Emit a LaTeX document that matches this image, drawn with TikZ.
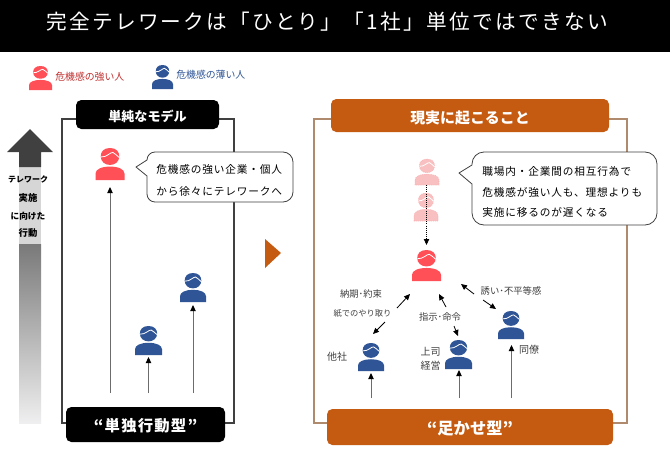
\documentclass[tikz,border=0pt]{standalone}
\usepackage{fontspec}
\setmainfont{Noto Sans CJK JP}
\newfontfamily\spaced[LetterSpace=8]{Noto Sans CJK JP}
\newfontfamily\wide[LetterSpace=11]{Noto Sans CJK JP}
\usetikzlibrary{arrows.meta,shadings}
\definecolor{orng}{HTML}{C55A11}
\definecolor{tanline}{HTML}{AF8A6C}
\definecolor{redp}{HTML}{FF4F57}
\definecolor{redt}{HTML}{C0302F}
\definecolor{bluep}{HTML}{2F5597}
\definecolor{fadep}{HTML}{F8C0C0}
\definecolor{darkg}{HTML}{404040}
\tikzset{
 x=0.75pt,y=-0.75pt,
 conn/.style={-{Triangle[length=4.5pt,width=4pt,black]},draw=gray!85!black,line width=0.7pt},
 blk/.style={-{Triangle[length=4.5pt,width=4pt]},draw=black,line width=0.6pt},
 blackbox/.style={fill=black,text=white,rounded corners=4pt,inner sep=0pt},
 orngbox/.style={fill=orng,text=white,rounded corners=4pt,inner sep=0pt},
 lab/.style={inner sep=0pt,font=\fontsize{7pt}{8pt}\selectfont,text=darkg,align=center},
 say/.style={inner sep=0pt,font=\spaced\fontsize{8pt}{9pt}\selectfont,text=black,anchor=west},
 bub/.style={draw=darkg,fill=white,line width=0.6pt,line join=round},
 arrtxt/.style={inner sep=0pt,text=black}
}
% #1 name, #2 cx, #3 top, #4 width, #5 height, #6 colour, #7 extra options
\newcommand{\prsn}[7]{%
 \begin{scope}[shift={(#2,#3)},x=#4*0.75pt,y=-#5*0.75pt]
  \node[inner sep=0pt,minimum size=0pt] (#1) at (0,0.5) {};
  \fill[#6,#7] (-0.5,1) -- (-0.5,0.80) .. controls (-0.5,0.66) and (-0.28,0.58) .. (0,0.58) .. controls (0.28,0.58) and (0.5,0.66) .. (0.5,0.80) -- (0.5,1) -- cycle;
  \fill[#6,#7] (0,0) .. controls (0.22,0) and (0.32,0.12) .. (0.32,0.26) .. controls (0.32,0.42) and (0.18,0.53) .. (0,0.53) .. controls (-0.18,0.53) and (-0.32,0.42) .. (-0.32,0.26) .. controls (-0.32,0.12) and (-0.22,0) .. (0,0) -- cycle;
  \draw[white,line width=0.6pt] (-0.31,0.28) .. controls (-0.12,0.30) and (0.02,0.12) .. (0.10,0.14) .. controls (0.18,0.16) and (0.22,0.24) .. (0.32,0.30);
 \end{scope}}
\begin{document}
\begin{tikzpicture}
\useasboundingbox (0,0) rectangle (670,450);
\fill[white] (0,0) rectangle (670,450);
\fill[black] (0,0) rectangle (670,52);
\node[inner sep=0pt,text=white,font=\wide\fontsize{15.5pt}{18pt}\selectfont] (title) at (327,22) {完全テレワークは「ひとり」「1社」単位ではできない};
% legend
\prsn{lr}{40.5}{66}{23}{24}{redp}{}
\node[lab,anchor=west,text=redt,font=\fontsize{7.4pt}{8pt}\selectfont] (lrt) at (55,77) {危機感の強い人};
\prsn{lb}{162.5}{65}{21}{24}{bluep}{}
\node[lab,anchor=west,text=bluep,font=\fontsize{7.4pt}{8pt}\selectfont] (lbt) at (176,75) {危機感の薄い人};
% big arrow
\shade[top color=gray!95!black,bottom color=blue!4!gray!12] (19,244) rectangle (41,423);
\fill[gray!32] (19,165) rectangle (41,244);
\fill[darkg] (30,129) -- (53,152) -- (41,152) -- (41,167) -- (19,167) -- (19,152) -- (7,152) -- cycle;
\node[arrtxt,font=\bfseries\fontsize{6pt}{8pt}\selectfont] (a1) at (28,179) {テレワーク};
\node[arrtxt,font=\bfseries\fontsize{7pt}{8pt}\selectfont] (a2) at (28,198) {実施};
\node[arrtxt,font=\bfseries\fontsize{6.5pt}{8pt}\selectfont] (a3) at (28,216) {に向けた};
\node[arrtxt,font=\bfseries\fontsize{7pt}{8pt}\selectfont] (a4) at (28,233) {行動};
% frames
\draw[darkg,line width=1pt] (62,119) rectangle (234,423);
\draw[tanline,line width=1pt] (314,119) rectangle (627,423);
% header boxes
\node[blackbox,minimum width=107.25pt,minimum height=21.75pt,text height=12pt,text depth=1.3pt,font=\bfseries\fontsize{9.8pt}{11pt}\selectfont] (h1) at (147.5,114.5) {単純なモデル};
\node[orngbox,minimum width=208.5pt,minimum height=24.75pt,text height=13pt,text depth=0.8pt,font=\bfseries\fontsize{11.2pt}{12pt}\selectfont] (h2) at (470,115.5) {現実に起こること};
\node[blackbox,minimum width=119.25pt,minimum height=26.25pt,text height=12pt,text depth=1.1pt,font=\spaced\bfseries\fontsize{11.5pt}{14pt}\selectfont] (f1) at (145.5,424.5) {“単独行動型”};
\node[orngbox,minimum width=214.5pt,minimum height=27pt,text height=12pt,text depth=1.2pt,font=\bfseries\fontsize{12.2pt}{14pt}\selectfont] (f2) at (470,427) {“足かせ型”};
% triangle
\fill[orng] (265,239) -- (281,253) -- (265,268) -- cycle;
% persons left
\prsn{p1}{110}{148}{29}{32}{redp}{}
\prsn{p2}{193}{273}{26}{29}{bluep}{}
\prsn{p3}{148.5}{326}{27}{29}{bluep}{}
% persons right
\prsn{q1}{427}{159}{24}{26}{fadep}{draw=redp!50,densely dotted,line width=0.4pt}
\prsn{q2}{426}{193}{24}{28}{fadep}{draw=redp!50,densely dotted,line width=0.4pt}
\prsn{q3}{426.5}{250}{29}{31}{redp}{}
\prsn{q4}{371}{343}{26}{28}{bluep}{}
\prsn{q5}{458.5}{340}{27}{29}{bluep}{}
\prsn{q6}{511}{311}{26}{28}{bluep}{}
% free ends
\coordinate (b1) at (110,393); \coordinate (e1) at (110,187);
\coordinate (b2) at (148.5,393); \coordinate (e2) at (148.5,357);
\coordinate (b3) at (193,393); \coordinate (e3) at (193,305);
\draw[conn] (b1) -- (e1);
\draw[conn] (b2) -- (e2);
\draw[conn] (b3) -- (e3);
\coordinate (d0) at (426.5,185); \coordinate (d1) at (426.5,245);
\draw[blk,densely dotted] (d0) -- (d1);
\coordinate (c1) at (397,308); \coordinate (c2) at (410,294);
\coordinate (c3) at (385,322); \coordinate (c4) at (373,334);
\coordinate (c5) at (446,307); \coordinate (c6) at (439,294);
\coordinate (c7) at (454,326); \coordinate (c8) at (458,336);
\coordinate (c9) at (474,294); \coordinate (c10) at (461,284);
\coordinate (c11) at (483,300); \coordinate (c12) at (496,309);
\draw[blk] (c1) -- (c2);
\draw[blk] (c3) -- (c4);
\draw[blk] (c5) -- (c6);
\draw[blk] (c7) -- (c8);
\draw[blk] (c9) -- (c10);
\draw[blk] (c11) -- (c12);
\coordinate (g1) at (371,398); \coordinate (h1e) at (371,373);
\coordinate (g2) at (459,398); \coordinate (h2e) at (459,370);
\coordinate (g3) at (511.5,398); \coordinate (h3e) at (511.5,345);
\draw[conn] (g1) -- (h1e);
\draw[conn] (g2) -- (h2e);
\draw[conn] (g3) -- (h3e);
% labels
\node[lab] (t1) at (361,294) {納期･約束};
\node[lab,font=\fontsize{6.2pt}{8pt}\selectfont] (t2) at (362.5,313) {紙でのやり取り};
\node[lab] (t3) at (440,317) {指示･命令};
\node[lab] (t4) at (511,291) {誘い･不平等感};
\node[lab,font=\fontsize{7.5pt}{9pt}\selectfont] (t5) at (337,357) {他社};
\node[lab,font=\fontsize{7.5pt}{10.5pt}\selectfont] (t6) at (430.5,359) {上司\\経営};
\node[lab,font=\fontsize{7.5pt}{9pt}\selectfont] (t7) at (529,350) {同僚};
% callouts
\draw[bub] (155,152) -- (283,152) to[out=0,in=90] (293,162) -- (293,192) to[out=-90,in=0] (283,202) -- (155,202) to[out=180,in=-90] (147,194) -- (147,176) -- (136,167) -- (147,160) to[out=90,in=180] (155,152) -- cycle;
\node[say] (s1) at (156,169) {危機感の強い企業・個人};
\node[say] (s2) at (156,191) {から徐々にテレワークへ};
\draw[bub] (484,152) -- (645,152) to[out=0,in=90] (657,164) -- (657,213) to[out=-90,in=0] (645,225) -- (484,225) to[out=180,in=-90] (472,213) -- (472,184) -- (459,173) -- (472,165) -- (472,164) to[out=90,in=180] (484,152) -- cycle;
\node[say] (s3) at (482,171) {職場内・企業間の相互行為で};
\node[say] (s4) at (482,192) {危機感が強い人も、理想よりも};
\node[say] (s5) at (482,212) {実施に移るのが遅くなる};
\end{tikzpicture}
\end{document}
